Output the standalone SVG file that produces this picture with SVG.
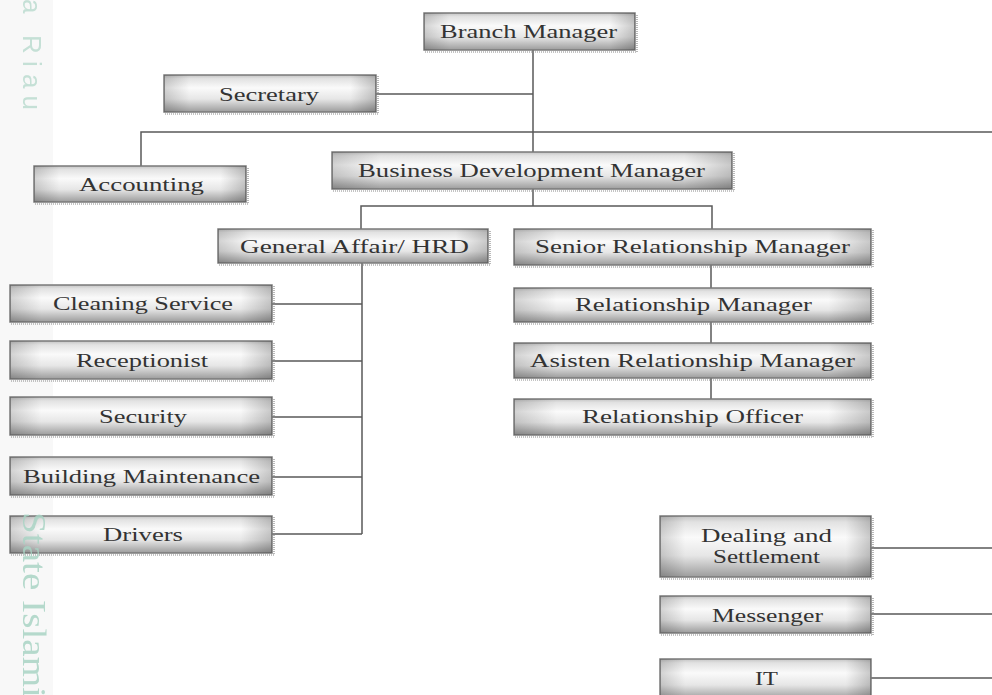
<svg xmlns="http://www.w3.org/2000/svg" width="992" height="695" viewBox="0 0 992 695">
<defs>
<linearGradient id="gv" x1="0" y1="0" x2="0" y2="1">
<stop offset="0" stop-color="#c4c4c4"/>
<stop offset="0.1" stop-color="#e2e2e2"/>
<stop offset="0.35" stop-color="#fafafa"/>
<stop offset="0.65" stop-color="#e6e6e6"/>
<stop offset="1" stop-color="#9c9c9c"/>
</linearGradient>
<linearGradient id="gh" x1="0" y1="0" x2="1" y2="0">
<stop offset="0" stop-color="#000" stop-opacity="0.16"/>
<stop offset="0.12" stop-color="#000" stop-opacity="0"/>
<stop offset="0.88" stop-color="#000" stop-opacity="0"/>
<stop offset="1" stop-color="#000" stop-opacity="0.2"/>
</linearGradient>
</defs>
<style>
.box{fill:url(#gv);stroke:#7a7a7a;stroke-width:1.5}
.hl{fill:url(#gh);stroke:none}
.sh{fill:none;stroke:#8a8a8a;stroke-width:1.2;stroke-dasharray:1 1}
.t{font-family:"Liberation Serif","Times New Roman",serif;font-size:18.5px;fill:#333333}
.wm{fill:#bcdcd0}
.cn{fill:none;stroke:#5a5a5a;stroke-width:1.5}
</style>
<rect width="992" height="695" fill="#ffffff"/>
<rect x="0" y="0" width="53" height="695" fill="#f8f8f8"/>
<g id="connectors">
<path class="cn" d="M533 50V152M376 94H533M141 166V132H992M533 189V206M361 229V206H712V229M711 265V288M711 322V343M711 378V399M362 263V534M272 304H362M272 361H362M272 417H362M272 477H362M272 534H362M871 548H992M871 614H992M871 678H992"/>
</g>
<g id="branch-manager">
<rect class="box" x="424" y="13" width="211" height="37"/><rect class="hl" x="424" y="13" width="211" height="37"/>
<path class="sh" d="M425 52H637V14"/>
<text class="t" x="440" y="37.5" textLength="177" lengthAdjust="spacingAndGlyphs">Branch Manager</text>
</g>
<g id="secretary">
<rect class="box" x="164" y="75" width="212" height="37"/><rect class="hl" x="164" y="75" width="212" height="37"/>
<path class="sh" d="M165 114H378V76"/>
<text class="t" x="219" y="100.5" textLength="100" lengthAdjust="spacingAndGlyphs">Secretary</text>
</g>
<g id="accounting">
<rect class="box" x="34" y="166" width="212" height="36"/><rect class="hl" x="34" y="166" width="212" height="36"/>
<path class="sh" d="M35 204H248V167"/>
<text class="t" x="79" y="190.5" textLength="125" lengthAdjust="spacingAndGlyphs">Accounting</text>
</g>
<g id="business-development-manager">
<rect class="box" x="332" y="152" width="400" height="37"/><rect class="hl" x="332" y="152" width="400" height="37"/>
<path class="sh" d="M333 191H734V153"/>
<text class="t" x="358" y="177" textLength="347" lengthAdjust="spacingAndGlyphs">Business Development Manager</text>
</g>
<g id="general-affair-hrd">
<rect class="box" x="218" y="229" width="270" height="34"/><rect class="hl" x="218" y="229" width="270" height="34"/>
<path class="sh" d="M219 265H490V230"/>
<text class="t" x="240" y="252.5" textLength="229" lengthAdjust="spacingAndGlyphs">General Affair/ HRD</text>
</g>
<g id="senior-relationship-manager">
<rect class="box" x="514" y="229" width="357" height="36"/><rect class="hl" x="514" y="229" width="357" height="36"/>
<path class="sh" d="M515 267H873V230"/>
<text class="t" x="535" y="253" textLength="315" lengthAdjust="spacingAndGlyphs">Senior Relationship Manager</text>
</g>
<g id="relationship-manager">
<rect class="box" x="514" y="288" width="357" height="34"/><rect class="hl" x="514" y="288" width="357" height="34"/>
<path class="sh" d="M515 324H873V289"/>
<text class="t" x="575" y="311" textLength="237" lengthAdjust="spacingAndGlyphs">Relationship Manager</text>
</g>
<g id="asisten-relationship-manager">
<rect class="box" x="514" y="343" width="357" height="35"/><rect class="hl" x="514" y="343" width="357" height="35"/>
<path class="sh" d="M515 380H873V344"/>
<text class="t" x="530" y="366.5" textLength="325" lengthAdjust="spacingAndGlyphs">Asisten Relationship Manager</text>
</g>
<g id="relationship-officer">
<rect class="box" x="514" y="399" width="357" height="36"/><rect class="hl" x="514" y="399" width="357" height="36"/>
<path class="sh" d="M515 437H873V400"/>
<text class="t" x="582" y="423" textLength="221" lengthAdjust="spacingAndGlyphs">Relationship Officer</text>
</g>
<g id="cleaning-service">
<rect class="box" x="10" y="285" width="262" height="37"/><rect class="hl" x="10" y="285" width="262" height="37"/>
<path class="sh" d="M11 324H274V286"/>
<text class="t" x="53" y="310" textLength="180" lengthAdjust="spacingAndGlyphs">Cleaning Service</text>
</g>
<g id="receptionist">
<rect class="box" x="10" y="341" width="262" height="38"/><rect class="hl" x="10" y="341" width="262" height="38"/>
<path class="sh" d="M11 381H274V342"/>
<text class="t" x="76" y="366.5" textLength="132" lengthAdjust="spacingAndGlyphs">Receptionist</text>
</g>
<g id="security">
<rect class="box" x="10" y="397" width="262" height="38"/><rect class="hl" x="10" y="397" width="262" height="38"/>
<path class="sh" d="M11 437H274V398"/>
<text class="t" x="99" y="423" textLength="88" lengthAdjust="spacingAndGlyphs">Security</text>
</g>
<g id="building-maintenance">
<rect class="box" x="10" y="457" width="262" height="38"/><rect class="hl" x="10" y="457" width="262" height="38"/>
<path class="sh" d="M11 497H274V458"/>
<text class="t" x="23" y="483" textLength="237" lengthAdjust="spacingAndGlyphs">Building Maintenance</text>
</g>
<g id="drivers">
<rect class="box" x="10" y="516" width="262" height="37"/><rect class="hl" x="10" y="516" width="262" height="37"/>
<path class="sh" d="M11 555H274V517"/>
<text class="t" x="103" y="541" textLength="80" lengthAdjust="spacingAndGlyphs">Drivers</text>
</g>
<g id="dealing-and-settlement">
<rect class="box" x="660" y="516" width="211" height="61"/><rect class="hl" x="660" y="516" width="211" height="61"/>
<path class="sh" d="M661 579H873V517"/>
<text class="t" x="701" y="542" textLength="131" lengthAdjust="spacingAndGlyphs">Dealing and</text>
<text class="t" x="713" y="563" textLength="107" lengthAdjust="spacingAndGlyphs">Settlement</text>
</g>
<g id="messenger">
<rect class="box" x="660" y="596" width="211" height="37"/><rect class="hl" x="660" y="596" width="211" height="37"/>
<path class="sh" d="M661 635H873V597"/>
<text class="t" x="712" y="622" textLength="111" lengthAdjust="spacingAndGlyphs">Messenger</text>
</g>
<g id="it">
<rect class="box" x="660" y="659" width="211" height="40"/><rect class="hl" x="660" y="659" width="211" height="40"/>
<text class="t" x="755" y="684.5" textLength="23" lengthAdjust="spacingAndGlyphs">IT</text>
</g>
<g id="watermark" opacity="0.85">
<text class="wm" transform="translate(23,-1) rotate(90)" x="0" y="0" font-family="Liberation Sans, Arial, sans-serif" font-size="26" textLength="111" lengthAdjust="spacing">a Riau</text>
<text transform="translate(23,512) rotate(90)" x="0" y="0" font-family="Liberation Serif, serif" font-size="33" fill="#a9d4c4" textLength="186" lengthAdjust="spacingAndGlyphs">State Islami</text>
</g>
</svg>
